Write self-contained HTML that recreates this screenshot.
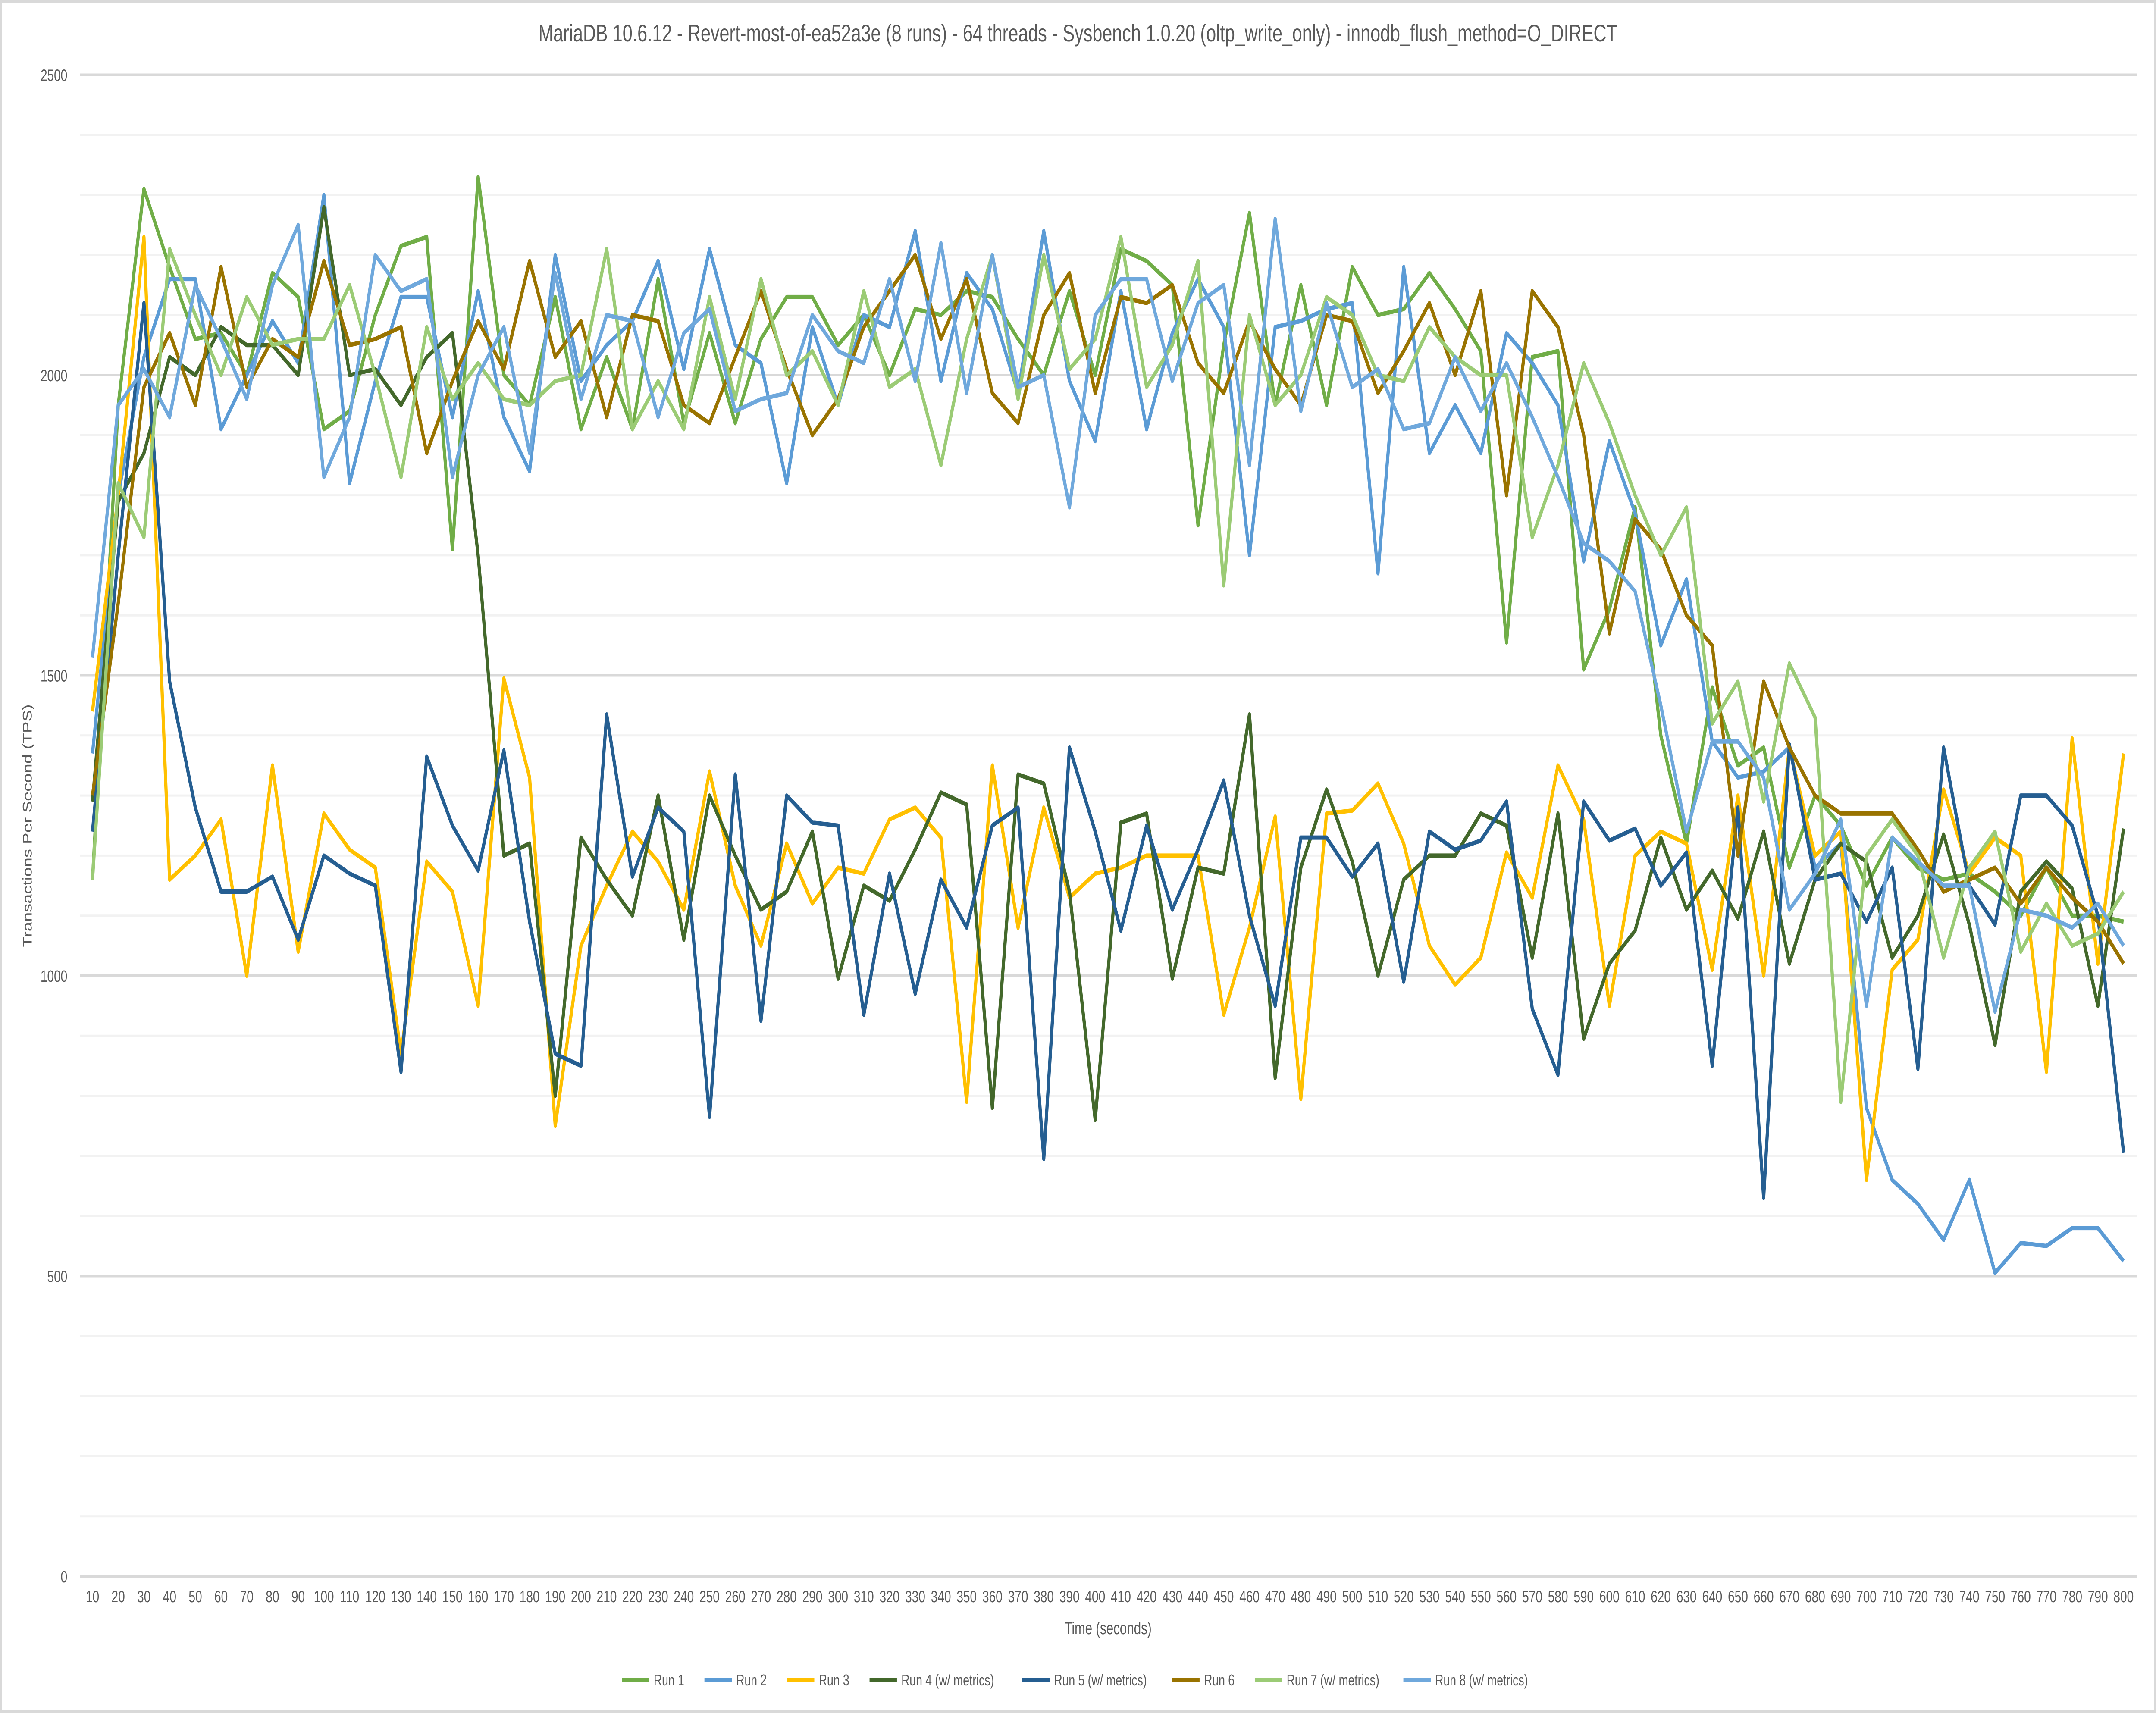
<!DOCTYPE html>
<html><head><meta charset="utf-8"><style>
html,body{margin:0;padding:0;background:#fff;overflow:hidden;width:100%;height:100%}
svg{display:block;width:100vw;height:100vh}
text{font-family:"Liberation Sans",sans-serif;fill:#595959}
</style></head><body>
<svg id="c" viewBox="0 0 6783 3973" preserveAspectRatio="none" xmlns="http://www.w3.org/2000/svg">
<rect x="3" y="3" width="6777" height="3967" fill="#fff" stroke="#d9d9d9" stroke-width="6"/>
<text x="3391" y="96" font-size="56" text-anchor="middle">MariaDB 10.6.12 - Revert-most-of-ea52a3e (8 runs) - 64 threads - Sysbench 1.0.20 (oltp_write_only) - innodb_flush_method=O_DIRECT</text>
<g id="grid"></g>
<g id="series" fill="none" stroke-width="10" stroke-linejoin="round"></g>
<text x="3486" y="3790" font-size="40" text-anchor="middle">Time (seconds)</text>
<text transform="translate(100,1915) rotate(-90)" font-size="40" text-anchor="middle">Transactions Per Second (TPS)</text>
<g id="legend"></g>
</svg>
<script>
const X0=291,X1=6681,Y0=3656,K=1.393;
const xs=i=>X0+(X1-X0)*i/79, ys=v=>Y0-v*K;
const ns="http://www.w3.org/2000/svg";
function el(t,a,p,txt){const e=document.createElementNS(ns,t);for(const k in a)e.setAttribute(k,a[k]);if(txt!==undefined)e.textContent=txt;p.appendChild(e);return e;}
const g=document.getElementById('grid');
for(let v=0;v<=2500;v+=100){const major=v%500==0;el('line',{x1:252,x2:6724,y1:ys(v),y2:ys(v),stroke:major?'#d9d9d9':'#f2f2f2','stroke-width':major?6:5},g);
 if(major)el('text',{x:212,y:ys(v)+14,'font-size':38,'text-anchor':'end'},g,String(v));}
for(let i=0;i<80;i++)el('text',{x:xs(i),y:3716,'font-size':38,'text-anchor':'middle'},g,String((i+1)*10));
const D=[
["Run 1","#70AD47",[1160,1950,2310,2180,2060,2070,2000,2170,2130,1910,1940,2100,2215,2230,1710,2330,2000,1950,2130,1910,2030,1910,2160,1920,2070,1920,2060,2130,2130,2050,2100,2000,2110,2100,2140,2130,2060,2000,2140,2000,2210,2190,2150,1750,2050,2270,1950,2150,1950,2180,2100,2110,2170,2110,2040,1555,2030,2040,1510,1610,1780,1400,1220,1480,1350,1380,1180,1300,1250,1150,1230,1180,1160,1170,1140,1100,1180,1100,1100,1090]],
["Run 2","#5B9BD5",[1370,1800,2030,2160,2160,1910,2000,2090,2020,2300,1820,1990,2130,2130,1930,2140,1930,1840,2200,1990,2050,2090,2190,2010,2210,2050,2020,1820,2080,1950,2100,2080,2240,1990,2170,2110,1970,2240,1990,1890,2140,1910,2070,2160,2080,1700,2080,2090,2110,2120,1670,2180,1870,1950,1870,2070,2020,1950,1690,1890,1770,1550,1660,1390,1330,1340,1380,1180,1220,780,660,620,560,660,505,555,550,580,580,525]],
["Run 3","#FFC000",[1440,1800,2230,1160,1200,1260,1000,1350,1040,1270,1210,1180,870,1190,1140,950,1495,1330,750,1050,1150,1240,1190,1110,1340,1150,1050,1220,1120,1180,1170,1260,1280,1230,790,1350,1080,1280,1130,1170,1180,1200,1200,1200,935,1080,1265,795,1270,1275,1320,1220,1050,985,1030,1205,1130,1350,1260,950,1200,1240,1220,1010,1300,1000,1380,1200,1240,660,1010,1060,1310,1170,1230,1200,840,1395,1020,1370]],
["Run 4 (w/ metrics)","#43682B",[1290,1790,1870,2030,2000,2080,2050,2050,2000,2280,2000,2010,1950,2030,2070,1700,1200,1220,800,1230,1160,1100,1300,1060,1300,1200,1110,1140,1240,995,1150,1125,1210,1305,1285,780,1335,1320,1140,760,1255,1270,995,1180,1170,1435,830,1180,1310,1190,1000,1160,1200,1200,1270,1250,1030,1270,895,1020,1075,1230,1110,1175,1095,1240,1020,1160,1220,1190,1030,1100,1235,1085,885,1140,1190,1145,950,1245]],
["Run 5 (w/ metrics)","#255E91",[1240,1700,2120,1490,1280,1140,1140,1165,1060,1200,1170,1150,840,1365,1250,1175,1375,1090,870,850,1435,1165,1280,1240,765,1335,925,1300,1255,1250,935,1170,970,1160,1080,1250,1280,695,1380,1240,1075,1250,1110,1210,1325,1100,950,1230,1230,1165,1220,990,1240,1210,1225,1290,945,835,1290,1225,1245,1150,1205,850,1280,630,1385,1160,1170,1090,1180,845,1380,1150,1085,1300,1300,1250,1100,705]],
["Run 6","#997300",[1300,1620,1980,2070,1950,2180,1980,2060,2030,2190,2050,2060,2080,1870,1990,2090,2010,2190,2030,2090,1930,2100,2090,1950,1920,2030,2140,2010,1900,1960,2080,2140,2200,2060,2160,1970,1920,2100,2170,1970,2130,2120,2150,2020,1970,2090,2010,1950,2100,2090,1970,2040,2120,2000,2140,1800,2140,2080,1900,1570,1760,1710,1600,1550,1200,1490,1380,1300,1270,1270,1270,1210,1140,1160,1180,1120,1180,1130,1090,1020]],
["Run 7 (w/ metrics)","#9BCB75",[1160,1820,1730,2210,2100,2000,2130,2050,2060,2060,2150,2000,1830,2080,1960,2020,1960,1950,1990,2000,2210,1910,1990,1910,2130,1960,2160,2000,2040,1950,2140,1980,2010,1850,2060,2200,1960,2200,2010,2060,2230,1980,2050,2190,1650,2100,1950,2000,2130,2100,2000,1990,2080,2030,2000,2000,1730,1850,2020,1920,1800,1700,1780,1420,1490,1290,1520,1430,790,1200,1260,1200,1030,1180,1240,1040,1120,1050,1070,1140]],
["Run 8 (w/ metrics)","#6FA8DC",[1530,1950,2010,1930,2150,2060,1960,2150,2250,1830,1930,2200,2140,2160,1830,2000,2080,1870,2170,1960,2100,2090,1930,2070,2110,1940,1960,1970,2100,2040,2020,2160,1990,2220,1970,2200,1980,2000,1780,2100,2160,2160,1990,2120,2150,1850,2260,1940,2120,1980,2010,1910,1920,2030,1940,2020,1930,1830,1720,1690,1640,1450,1240,1390,1390,1330,1110,1170,1260,950,1230,1190,1150,1150,940,1110,1100,1080,1120,1050]]
];
const s=document.getElementById('series'),L=document.getElementById('legend');
const lx=[452,512,572,632,743,852,912,1020].map(v=>v*4.3286);
D.forEach((d,j)=>{el('polyline',{points:d[2].map((v,i)=>xs(i).toFixed(1)+','+ys(v).toFixed(1)).join(' '),stroke:d[1]},s);
 el('line',{x1:lx[j],x2:lx[j]+86,y1:3896,y2:3896,stroke:d[1],'stroke-width':10},L);
 el('text',{x:lx[j]+100,y:3909,'font-size':36},L,d[0]);});
</script>
</body></html>
